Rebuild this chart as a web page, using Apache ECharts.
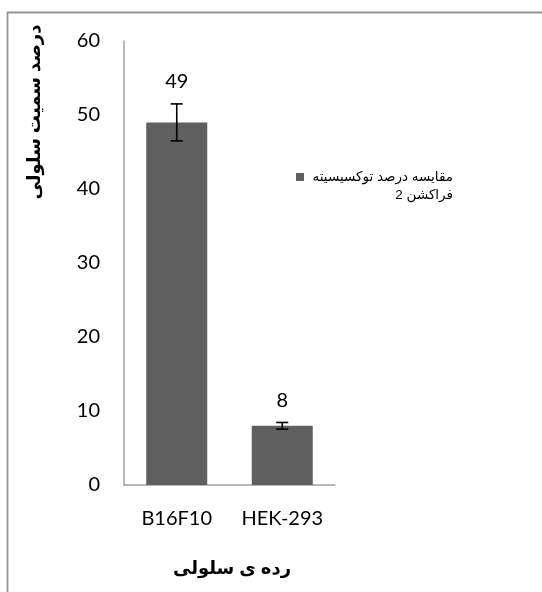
<!DOCTYPE html>
<html>
<head>
<meta charset="utf-8">
<script src="https://cdn.jsdelivr.net/npm/echarts@6/dist/echarts.min.js"></script>
<style>
html,body{margin:0;padding:0;background:#fff;}
#chart{width:542px;height:592px;}
</style>
</head>
<body>
<div id="chart"></div>
<script>
const categories = ['B16F10', 'HEK-293'];
const values = [49, 8];
const errors = [2.5, 0.45];
const seriesName = 'مقایسه درصد توکسیسیته فراکشن 2';
const legendLines = ['مقایسه درصد توکسیسیته', 'فراکشن 2'];
const yTitle = 'درصد سمیت سلولی';
const xTitle = 'رده ی سلولی';
const yMin = 0, yMax = 60, yInterval = 10;

const barColor = '#5f5f5f';
const numFont = 'Lato, "Open Sans", sans-serif';
const arFont = 'Arial, "DejaVu Sans", sans-serif';

const chart = echarts.init(document.getElementById('chart'), null, {renderer: 'canvas'});

const errData = categories.map((c, i) => [i, values[i], errors[i]]);

chart.setOption({
  animation: false,
  backgroundColor: '#fff',
  grid: {left: 124, right: 207, top: 41, bottom: 107},
  xAxis: {
    type: 'category',
    data: categories,
    axisLine: {show: true, lineStyle: {color: '#a0a0a0', width: 1.5}},
    axisTick: {show: false},
    axisLabel: {color: '#000', fontSize: 20, fontFamily: numFont, margin: 24, interval: 0}
  },
  yAxis: {
    type: 'value',
    min: yMin, max: yMax, interval: yInterval,
    axisLine: {show: true, lineStyle: {color: '#a0a0a0', width: 1.5}},
    axisTick: {show: false},
    splitLine: {show: false},
    axisLabel: {color: '#000', fontSize: 20, fontFamily: numFont, margin: 24}
  },
  series: [
    {
      name: seriesName,
      type: 'bar',
      data: values,
      barWidth: 61,
      itemStyle: {color: barColor}
    },
    {
      type: 'custom',
      data: errData,
      z: 10,
      renderItem: function (params, api) {
        const idx = api.value(0);
        const v = api.value(1);
        const e = api.value(2);
        const hi = api.coord([idx, v + e]);
        const lo = api.coord([idx, v - e]);
        const hw = 6;
        const style = {stroke: '#000', lineWidth: 1.6};
        return {
          type: 'group',
          children: [
            {type: 'line', shape: {x1: hi[0], y1: hi[1], x2: lo[0], y2: lo[1]}, style: style},
            {type: 'line', shape: {x1: hi[0] - hw, y1: hi[1], x2: hi[0] + hw, y2: hi[1]}, style: style},
            {type: 'line', shape: {x1: lo[0] - hw, y1: lo[1], x2: lo[0] + hw, y2: lo[1]}, style: style},
            {type: 'text', x: hi[0], y: hi[1] - 22,
              style: {text: String(v), fill: '#000', font: '20px ' + numFont, textAlign: 'center', textVerticalAlign: 'middle'}}
          ]
        };
      }
    }
  ],
  graphic: [
    {type: 'rect', shape: {x: 7.5, y: 12.5, width: 700, height: 700}, style: {fill: 'none', stroke: '#959595', lineWidth: 1.8}, silent: true},
    {type: 'text', x: 35, y: 112, rotation: Math.PI / 2,
      style: {text: yTitle, fill: '#000', font: 'bold 18px ' + arFont, textAlign: 'center', textVerticalAlign: 'middle'}},
    {type: 'text', x: 232, y: 569,
      style: {text: xTitle, fill: '#000', font: 'bold 18px ' + arFont, textAlign: 'center', textVerticalAlign: 'middle'}},
    {type: 'rect', shape: {x: 296, y: 173, width: 8, height: 8}, style: {fill: barColor}},
    {type: 'text', x: 453, y: 177,
      style: {text: legendLines[0], fill: '#000', font: '13.5px ' + arFont, textAlign: 'right', textVerticalAlign: 'middle'}},
    {type: 'text', x: 453, y: 195,
      style: {text: legendLines[1], fill: '#000', font: '13.5px ' + arFont, textAlign: 'right', textVerticalAlign: 'middle'}}
  ]
});
</script>
</body>
</html>
